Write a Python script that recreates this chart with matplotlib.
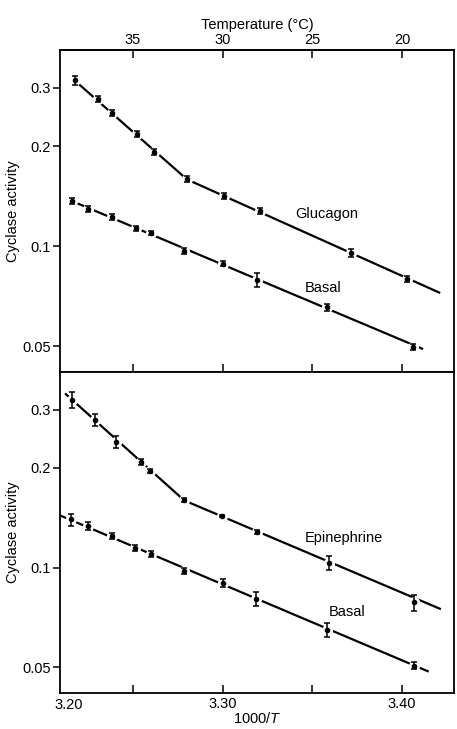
import numpy as np
import matplotlib
matplotlib.use("Agg")
import matplotlib.pyplot as plt

plt.rcParams['font.family'] = ['Liberation Sans', 'DejaVu Sans']
plt.rcParams['mathtext.fontset'] = 'custom'
plt.rcParams['mathtext.it'] = 'Liberation Sans:italic'
plt.rcParams['mathtext.rm'] = 'Liberation Sans'

# --- data (x = 1000/T, y = cyclase activity) ---
glucagon_x = [3.2175, 3.2307, 3.2382, 3.2523, 3.2617, 3.2801, 3.3010, 3.3210, 3.3714, 3.4027]
glucagon_y = [0.316, 0.277, 0.252, 0.2175, 0.192, 0.159, 0.142, 0.128, 0.0955, 0.0796]
glucagon_err = [0.009, 0.006, 0.005, 0.0045, 0.004, 0.0033, 0.003, 0.0027, 0.0027, 0.0017]
glucagon_fit_x = [3.2175, 3.2801, 3.4212]
glucagon_fit_y = [0.316, 0.159, 0.0723]

basal1_x = [3.2159, 3.2248, 3.2386, 3.2519, 3.2601, 3.2784, 3.3004, 3.3190, 3.3582, 3.4062]
basal1_y = [0.1369, 0.1299, 0.1226, 0.1131, 0.1096, 0.0966, 0.0887, 0.0790, 0.0654, 0.0497]
basal1_err = [0.0028, 0.0027, 0.0026, 0.0016, 0.0015, 0.002, 0.0018, 0.0038, 0.0014, 0.0009]
basal1_fit_x = [3.2159, 3.4117]
basal1_fit_y = [0.1369, 0.0490]

epi_x = [3.2159, 3.2287, 3.2408, 3.2545, 3.2597, 3.2786, 3.2994, 3.3190, 3.3592, 3.4064]
epi_y = [0.3214, 0.279, 0.2397, 0.209, 0.1957, 0.1596, 0.143, 0.128, 0.1033, 0.0785]
epi_err = [0.0178, 0.0116, 0.010, 0.0043, 0.0027, 0.0022, 0.001, 0.0018, 0.005, 0.0044]
epi_fit_x = [3.2122, 3.2786, 3.4216]
epi_fit_y = [0.336, 0.1596, 0.0749]

basal2_x = [3.2156, 3.2251, 3.2381, 3.2510, 3.2603, 3.2783, 3.3001, 3.3187, 3.3584, 3.4064]
basal2_y = [0.1398, 0.1334, 0.1244, 0.1147, 0.1102, 0.0975, 0.0899, 0.0806, 0.0649, 0.0506]
basal2_err = [0.0058, 0.0037, 0.0026, 0.0024, 0.0023, 0.002, 0.0025, 0.0039, 0.0032, 0.0011]
basal2_fit_x = [3.2094, 3.4148]
basal2_fit_y = [0.1438, 0.0485]

xticks = [3.25, 3.30, 3.35, 3.40]
xticklabels = ['', '3.30', '', '3.40']
temp_labels = ['35', '30', '25', '20']
yticks = [0.05, 0.1, 0.2, 0.3]
yticklabels = ['0.05', '0.1', '0.2', '0.3']

XLIM = (3.2094, 3.4289)
YLIM = (0.0418, 0.39)
FS = 10.5

fig = plt.figure(figsize=(4.57, 7.29), dpi=100)
W, H = 457, 729
ax1 = fig.add_axes([60 / W, 1 - 372 / H, 394 / W, 322 / H])
ax2 = fig.add_axes([60 / W, 1 - 693 / H, 394 / W, 321 / H])


def draw_series(ax, x, y, err, fx, fy):
    ax.plot(fx, fy, color='black', lw=1.6, zorder=2, solid_capstyle='butt')
    ax.plot(x, y, 'o', ms=7, color='white', mec='white', zorder=3)
    ax.errorbar(x, y, yerr=err, fmt='o', ms=3, color='black', ecolor='black',
                elinewidth=1.1, capsize=2.2, capthick=1.1, zorder=4)


draw_series(ax1, glucagon_x, glucagon_y, glucagon_err, glucagon_fit_x, glucagon_fit_y)
draw_series(ax1, basal1_x, basal1_y, basal1_err, basal1_fit_x, basal1_fit_y)
draw_series(ax2, epi_x, epi_y, epi_err, epi_fit_x, epi_fit_y)
draw_series(ax2, basal2_x, basal2_y, basal2_err, basal2_fit_x, basal2_fit_y)

ax1.text(3.3582, 0.1249, 'Glucagon', ha='center', va='center', fontsize=FS)
ax1.text(3.3561, 0.0750, 'Basal', ha='center', va='center', fontsize=FS)
ax2.text(3.3674, 0.1225, 'Epinephrine', ha='center', va='center', fontsize=FS)
ax2.text(3.3696, 0.0733, 'Basal', ha='center', va='center', fontsize=FS)

for ax in (ax1, ax2):
    ax.set_yscale('log')
    ax.set_xlim(XLIM)
    ax.set_ylim(YLIM)
    ax.set_yticks(yticks)
    ax.set_yticklabels(yticklabels)
    ax.minorticks_off()
    ax.tick_params(axis='y', direction='out', length=5, width=1.1, labelsize=FS, pad=1.5)
    ax.set_ylabel('Cyclase activity', fontsize=FS, labelpad=2)
    for sp in ax.spines.values():
        sp.set_linewidth(1.3)

# top panel: inward ticks on both x spines, temperature labels on top
ax1.set_xticks(xticks)
ax1.tick_params(axis='x', direction='in', length=6, width=1.1, bottom=True,
                labelbottom=False)
top = ax1.secondary_xaxis('top')
top.set_xticks(xticks)
top.set_xticklabels(temp_labels)
top.tick_params(axis='x', direction='in', length=6, width=1.1, labelsize=FS, pad=2)
top.spines['top'].set_linewidth(1.3)
top.set_xlabel('Temperature (\u00b0C)', fontsize=FS, labelpad=3)

# bottom panel
ax2.set_xticks(xticks)
ax2.set_xticklabels(xticklabels)
ax2.tick_params(axis='x', direction='in', length=6, width=1.1, labelsize=FS, pad=3)
ax2.text(-0.015, -0.017, '3.20', transform=ax2.transAxes, ha='left', va='top', fontsize=FS)
ax2.set_xlabel(r'1000/$\mathit{T}$', fontsize=FS, labelpad=0)

fig.savefig('out.png', dpi=100)
